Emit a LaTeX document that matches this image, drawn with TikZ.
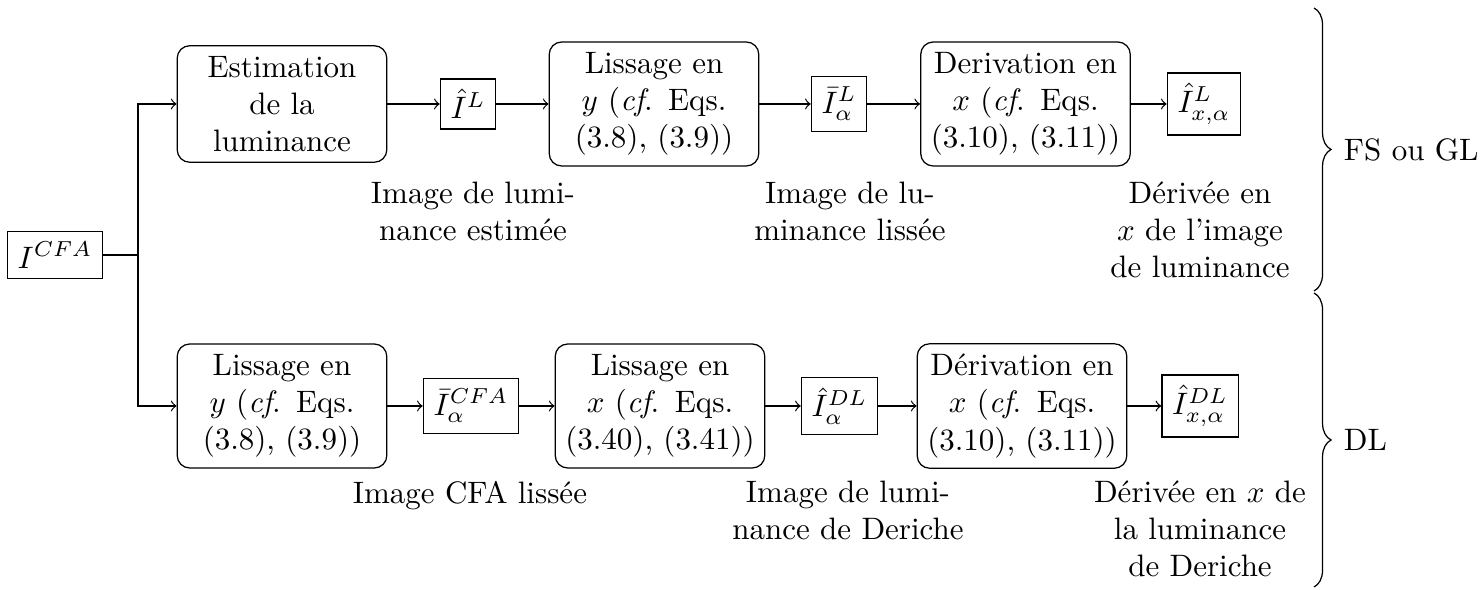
\documentclass[tikz,border=0pt]{standalone}
\usetikzlibrary{decorations.pathreplacing}
\begin{document}
\begin{tikzpicture}[x=0.3226pt,y=-0.3226pt,
  proc/.style={draw, rounded corners, align=center, text width=64pt, inner xsep=1.8pt},
  sig/.style={draw},
  captxt/.style={align=center, anchor=north},
  arr/.style={->},
  brc/.style={decorate, decoration={brace, amplitude=5.5pt}}]
\useasboundingbox (0,0) rectangle (1483,590);
% input
\node[sig] (cfa) at (55,255) {$I^{CFA}$};
\coordinate (split) at (138,255);
% top row
\node[proc] (a1) at (282,104) {Estimation\\ de la\\ luminance};
\node[sig] (a2) at (468,104) {$\hat{I}^L$};
\node[proc] (a3) at (654,104) {Lissage en\\ $y$ (\textit{cf}. Eqs.\\ (3.8), (3.9))};
\node[sig] (a4) at (839,104) {$\bar{I}^L_\alpha$};
\node[proc] (a5) at (1025.5,104) {Derivation en\\ $x$ (\textit{cf}. Eqs.\\ (3.10), (3.11))};
\node[sig] (a6) at (1204,104) {$\hat{I}^L_{x,\alpha}$};
% bottom row
\node[proc] (b1) at (282,406) {Lissage en\\ $y$ (\textit{cf}. Eqs.\\ (3.8), (3.9))};
\node[sig] (b2) at (471,406) {$\bar{I}^{CFA}_\alpha$};
\node[proc] (b3) at (660,406) {Lissage en\\ $x$ (\textit{cf}. Eqs.\\ (3.40), (3.41))};
\node[sig] (b4) at (839.5,406) {$\hat{I}^{DL}_\alpha$};
\node[proc] (b5) at (1022,406) {D\'erivation en\\ $x$ (\textit{cf}. Eqs.\\ (3.10), (3.11))};
\node[sig] (b6) at (1200,406) {$\hat{I}^{DL}_{x,\alpha}$};
% captions
\node[captxt] (c1) at (473,171) {Image de lumi-\\ nance estim\'ee};
\node[captxt] (c2) at (850,171) {Image de lu-\\ minance liss\'ee};
\node[captxt] (c3) at (1200,171) {D\'eriv\'ee en\\ $x$ de l'image\\ de luminance};
\node[captxt] (d1) at (470,470) {Image CFA liss\'ee};
\node[captxt] (d2) at (848,470) {Image de lumi-\\ nance de Deriche};
\node[captxt] (d3) at (1200,470) {D\'eriv\'ee en $x$ de\\ la luminance\\ de Deriche};
% connectors
\draw (cfa.east) -- (split);
\draw[arr] (split) |- (a1.west);
\draw[arr] (split) |- (b1.west);
\draw[arr] (a1) -- (a2);
\draw[arr] (a2) -- (a3);
\draw[arr] (a3) -- (a4);
\draw[arr] (a4) -- (a5);
\draw[arr] (a5) -- (a6);
\draw[arr] (b1) -- (b2);
\draw[arr] (b2) -- (b3);
\draw[arr] (b3) -- (b4);
\draw[arr] (b4) -- (b5);
\draw[arr] (b5) -- (b6);
% braces
\coordinate (t1) at (1314,8);
\coordinate (t2) at (1314,291);
\coordinate (u1) at (1314,293);
\coordinate (u2) at (1314,587);
\draw[brc] (t1) -- (t2);
\draw[brc] (u1) -- (u2);
\node[anchor=west] (fs) at (1333,150) {FS ou GL};
\node[anchor=west] (dl) at (1333,440) {DL};
\end{tikzpicture}
\end{document}
